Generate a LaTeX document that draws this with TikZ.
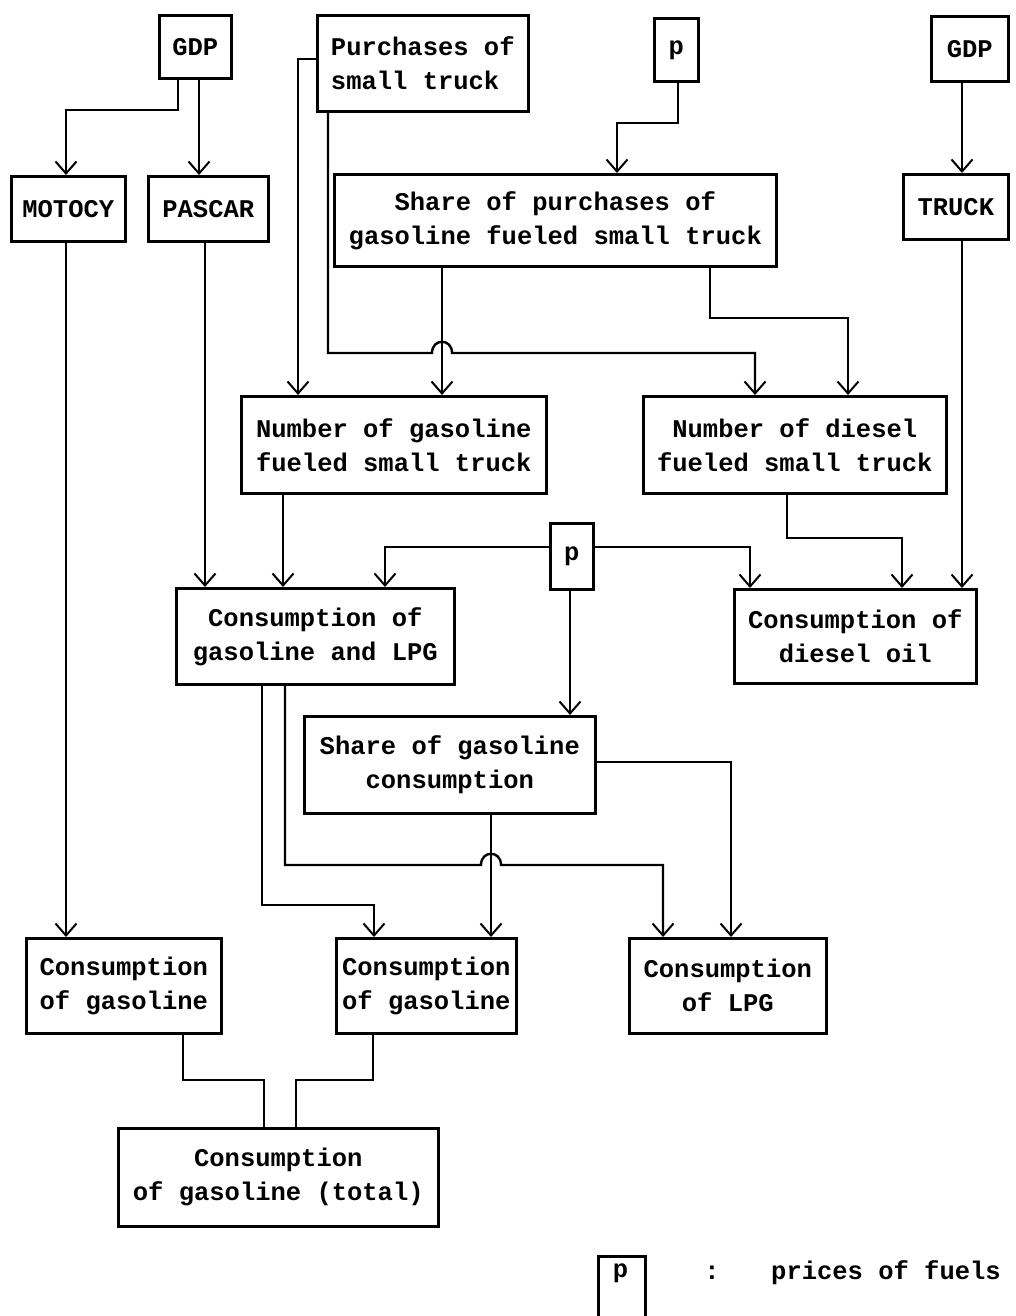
\documentclass[tikz,border=0pt]{standalone}
\usepackage{fontspec}
\setmainfont{Liberation Mono}
\usetikzlibrary{arrows.meta}
\begin{document}
\begin{tikzpicture}[x=1pt,y=-1pt,
  txt/.style={inner sep=0pt, font=\fontsize{25.5}{34}\selectfont\bfseries},
  box/.style={txt, draw, line width=2.6pt, align=center, anchor=north west},
  link/.style={line width=2.4pt},
  conn/.style={link, -{Straight Barb[length=12pt,width=21pt,line width=2pt]}}]
\clip (0,0) rectangle (1015,1316);
\fill[white] (0,0) rectangle (1015,1316);
% boxes
\node[box, minimum width=72,  minimum height=63] (gdp1) at (158,14) {GDP};
\node[box, minimum width=211, minimum height=96, align=left] (purch) at (316,14) {Purchases of\\small truck};
\node[box, minimum width=44,  minimum height=63] (p1) at (653,17) {p};
\node[box, minimum width=77,  minimum height=65] (gdp2) at (930,15) {GDP};
\node[box, minimum width=114, minimum height=65] (motocy) at (10,175) {MOTOCY};
\node[box, minimum width=120, minimum height=65] (pascar) at (147,175) {PASCAR};
\node[box, minimum width=442, minimum height=92] (sharepur) at (333,173) {Share of purchases of\\gasoline fueled small truck};
\node[box, minimum width=105, minimum height=65] (truck) at (902,173) {TRUCK};
\node[box, minimum width=305, minimum height=97] (numgas) at (240,395) {Number of gasoline\\fueled small truck};
\node[box, minimum width=303, minimum height=97] (numdie) at (642,395) {Number of diesel\\fueled small truck};
\node[box, minimum width=43,  minimum height=66] (pmid) at (549,522) {p};
\node[box, minimum width=278, minimum height=96] (consgl) at (175,587) {Consumption of\\gasoline and LPG};
\node[box, minimum width=242, minimum height=94] (consdie) at (733,588) {Consumption of\\diesel oil};
\node[box, minimum width=291, minimum height=97] (sharegas) at (303,715) {Share of gasoline\\consumption};
\node[box, minimum width=195, minimum height=95] (consg1) at (25,937) {Consumption\\of gasoline};
\node[box, minimum width=180, minimum height=95] (consg2) at (335,937) {Consumption\\of gasoline};
\node[box, minimum width=197, minimum height=95] (conslpg) at (628,937) {Consumption\\of LPG};
\node[box, minimum width=320, minimum height=98] (constot) at (117,1127) {Consumption\\of gasoline (total)};
% legend
\node[box, minimum width=47, minimum height=70] (legp) at (597,1255) {};
\node[txt] (legpt) at (620.5,1273) {p};
\node[txt] (legcolon) at (712,1273) {:};
\node[txt, anchor=west] (legtxt) at (771,1273) {prices of fuels};
% connectors
\draw[conn] (178,0 |- gdp1.south) |- (66,110) -- (66,0 |- motocy.north);
\draw[conn] (199,0 |- gdp1.south) -- (199,0 |- pascar.north);
\draw[conn] (purch.west |- 0,59) -| (298,0 |- numgas.north);
\draw[conn] (328,0 |- purch.south) -- (328,353) -- (432,353)
   .. controls (432,338) and (452,338) .. (452,353) -| (755,0 |- numdie.north);
\draw[conn] (678,0 |- p1.south) |- (617,123) -- (617,0 |- sharepur.north);
\draw[conn] (962,0 |- gdp2.south) -- (962,0 |- truck.north);
\draw[conn] (442,0 |- sharepur.south) -- (442,0 |- numgas.north);
\draw[conn] (710,0 |- sharepur.south) |- (848,318) -- (848,0 |- numdie.north);
\draw[conn] (962,0 |- truck.south) -- (962,0 |- consdie.north);
\draw[conn] (787,0 |- numdie.south) |- (902,538) -- (902,0 |- consdie.north);
\draw[conn] (pmid.east |- 0,547) -| (750,0 |- consdie.north);
\draw[conn] (pmid.west |- 0,547) -| (385,0 |- consgl.north);
\draw[conn] (570,0 |- pmid.south) -- (570,0 |- sharegas.north);
\draw[conn] (205,0 |- pascar.south) -- (205,0 |- consgl.north);
\draw[conn] (283,0 |- numgas.south) -- (283,0 |- consgl.north);
\draw[conn] (66,0 |- motocy.south) -- (66,0 |- consg1.north);
\draw[conn] (262,0 |- consgl.south) |- (374,905) -- (374,0 |- consg2.north);
\draw[conn] (285,0 |- consgl.south) -- (285,865) -- (481,865)
   .. controls (481,850) and (501,850) .. (501,865) -| (663,0 |- conslpg.north);
\draw[conn] (491,0 |- sharegas.south) -- (491,0 |- consg2.north);
\draw[conn] (sharegas.east |- 0,762) -| (731,0 |- conslpg.north);
\draw[link] (183,0 |- consg1.south) |- (264,1080) -- (264,0 |- constot.north);
\draw[link] (373,0 |- consg2.south) |- (296,1080) -- (296,0 |- constot.north);
\end{tikzpicture}
\end{document}
